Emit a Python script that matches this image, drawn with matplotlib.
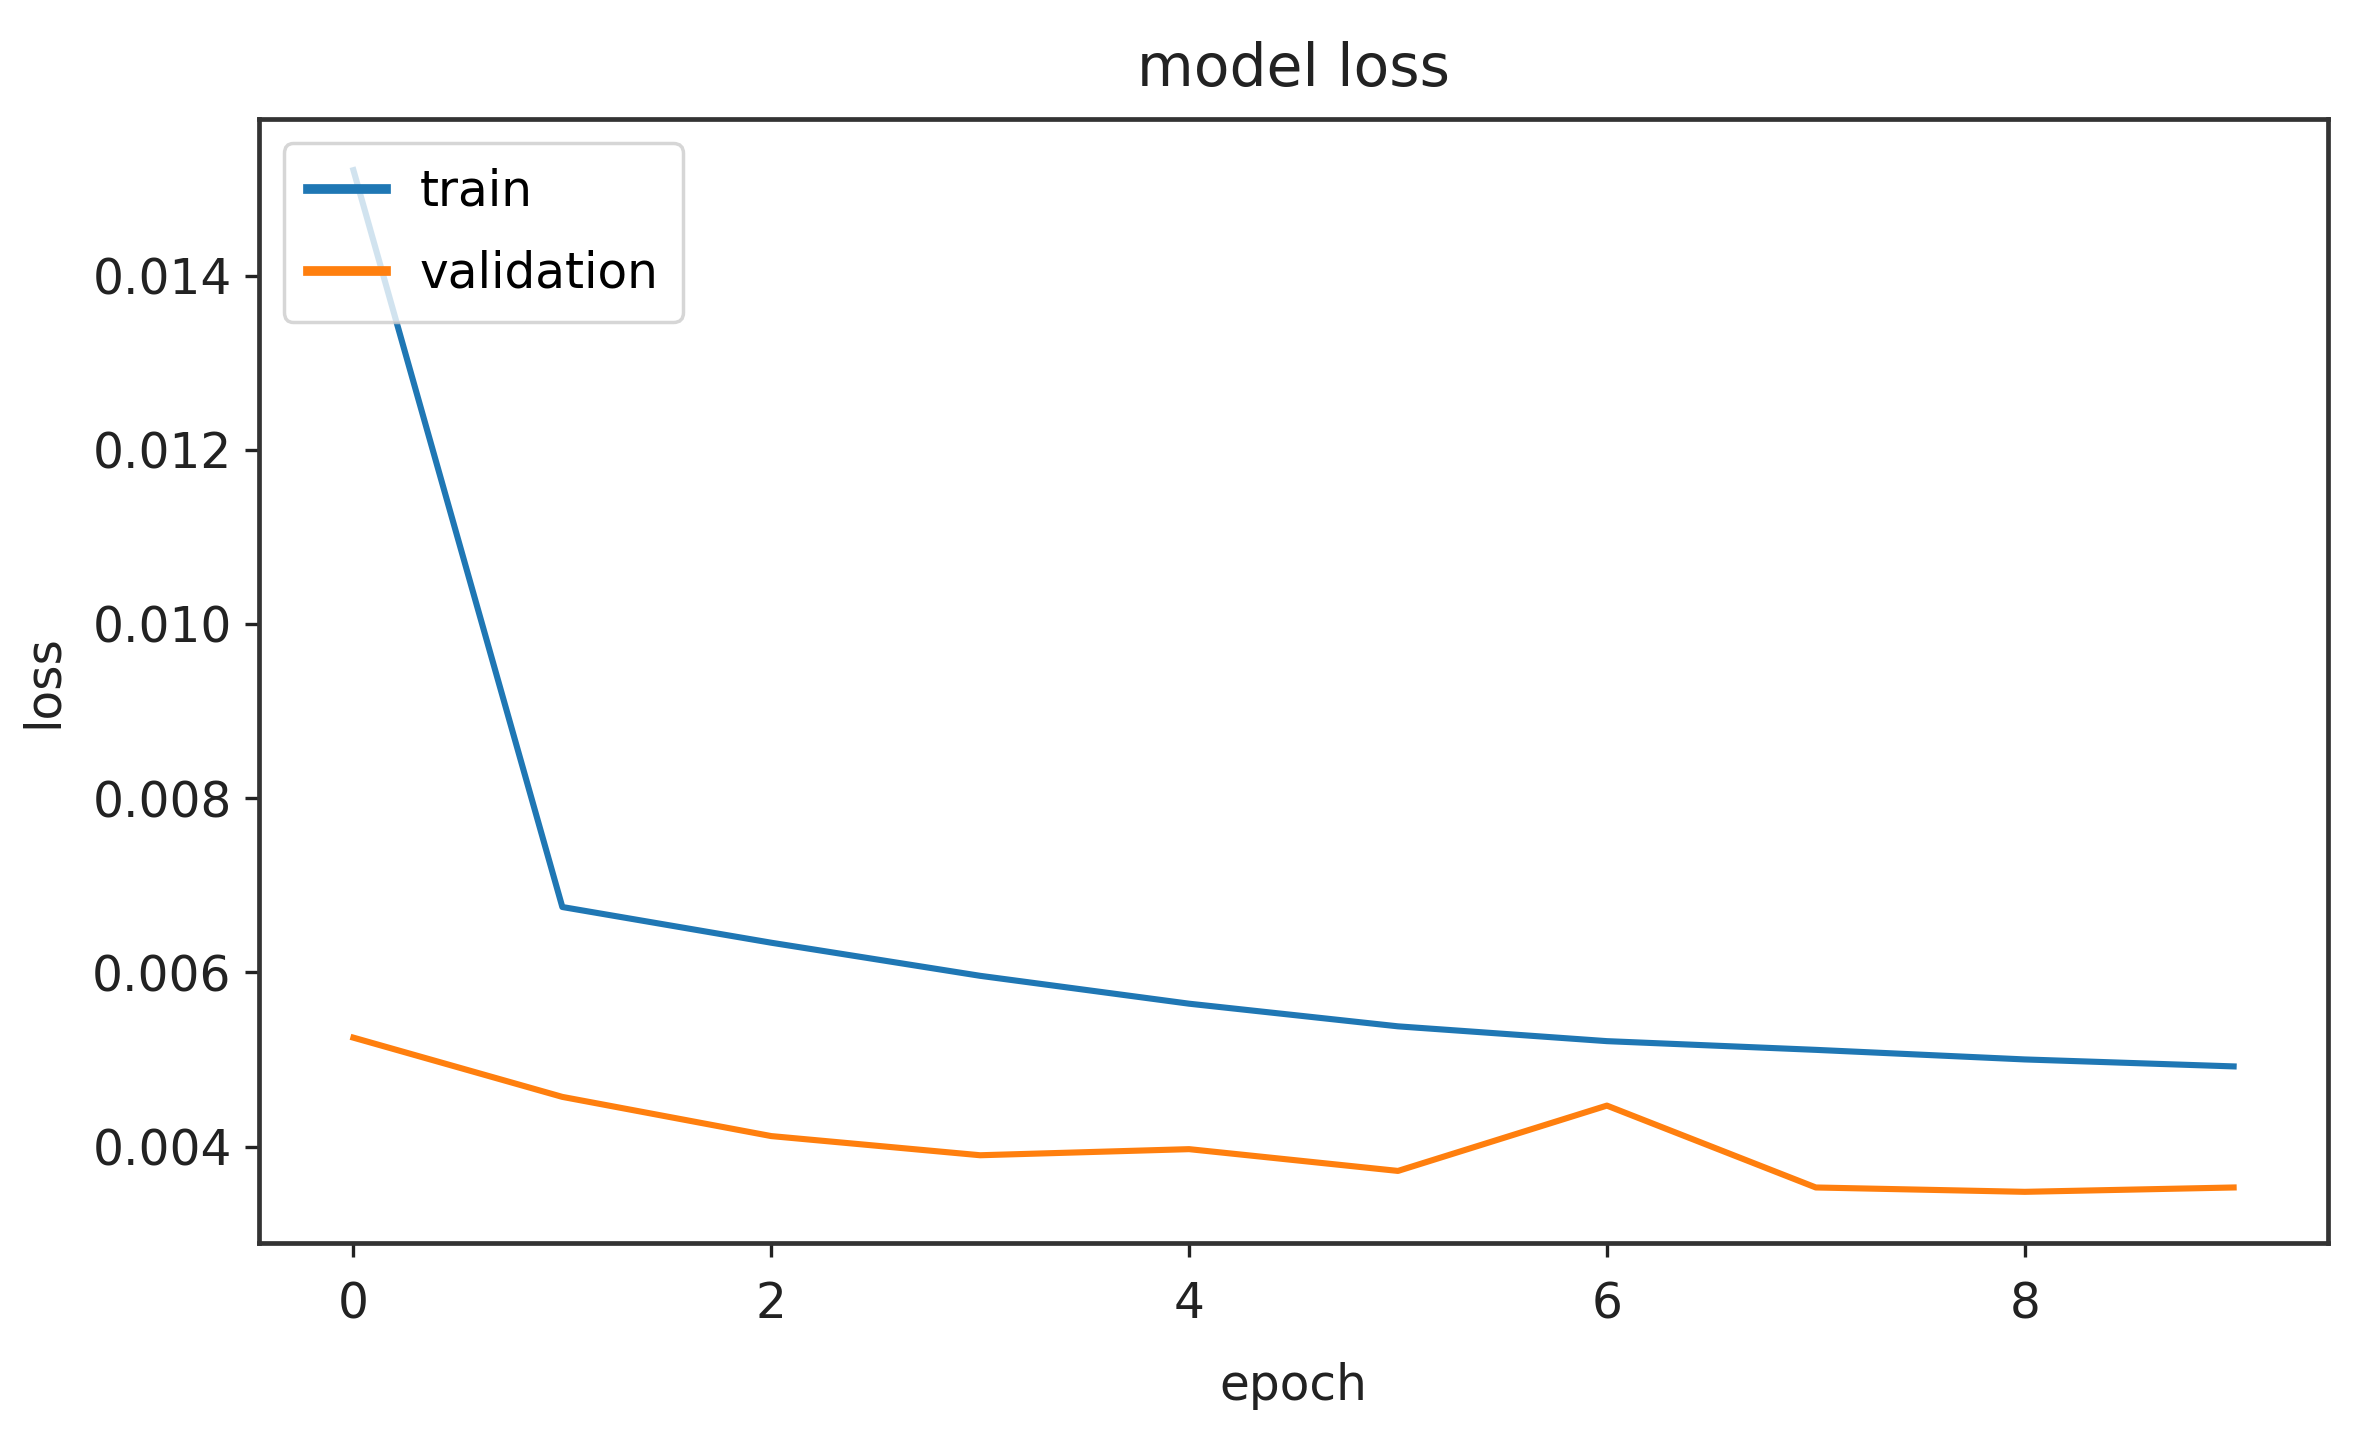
import numpy as np
import matplotlib
matplotlib.use('Agg')
import matplotlib.pyplot as plt

# values (per-epoch loss history)
epochs = list(range(10))
train_loss = [0.01521, 0.00675, 0.00634, 0.00596, 0.00564, 0.00538, 0.00521, 0.00511, 0.00500, 0.00492]
val_loss = [0.00525, 0.00457, 0.00412, 0.00390, 0.00397, 0.00372, 0.00447, 0.00353, 0.00348, 0.00353]
series_names = ['train', 'validation']

plt.rcParams.update({'font.family': 'DejaVu Sans', 'font.size': 35,
                     'axes.edgecolor': '#333333', 'axes.linewidth': 3.4,
                     'xtick.major.size': 10, 'ytick.major.size': 10,
                     'xtick.major.width': 2.4, 'ytick.major.width': 2.4,
                     'xtick.color': '#222222', 'ytick.color': '#222222',
                     'xtick.major.pad': 17, 'ytick.major.pad': 10})

fig = plt.figure(figsize=(23.8, 14.52), dpi=100)
ax = fig.add_axes([0.109, 0.144, 0.869, 0.774])

ax.plot(epochs, train_loss, color='#1f77b4', lw=4.4, label=series_names[0])
ax.plot(epochs, val_loss, color='#ff7f0e', lw=4.4, label=series_names[1])

ax.set_title('model loss', fontsize=42, pad=24, color='#222222')
ax.set_xlabel('epoch', fontsize=35, labelpad=24, color='#222222')
ax.set_ylabel('loss', fontsize=35, labelpad=18, color='#222222')
ax.set_xticks([0, 2, 4, 6, 8])
ax.set_yticks([0.004, 0.006, 0.008, 0.010, 0.012, 0.014])
ax.yaxis.set_major_formatter(matplotlib.ticker.FormatStrFormatter('%.3f'))

leg = ax.legend(loc='upper left', fontsize=35, handlelength=1.6, handletextpad=0.7,
                borderpad=0.5, labelspacing=0.7, framealpha=0.8, fancybox=True)
leg.get_frame().set_edgecolor('#cccccc')
leg.get_frame().set_linewidth(2.5)
for h in leg.get_lines():
    h.set_linewidth(7)

fig.savefig('out.png', dpi=100)
